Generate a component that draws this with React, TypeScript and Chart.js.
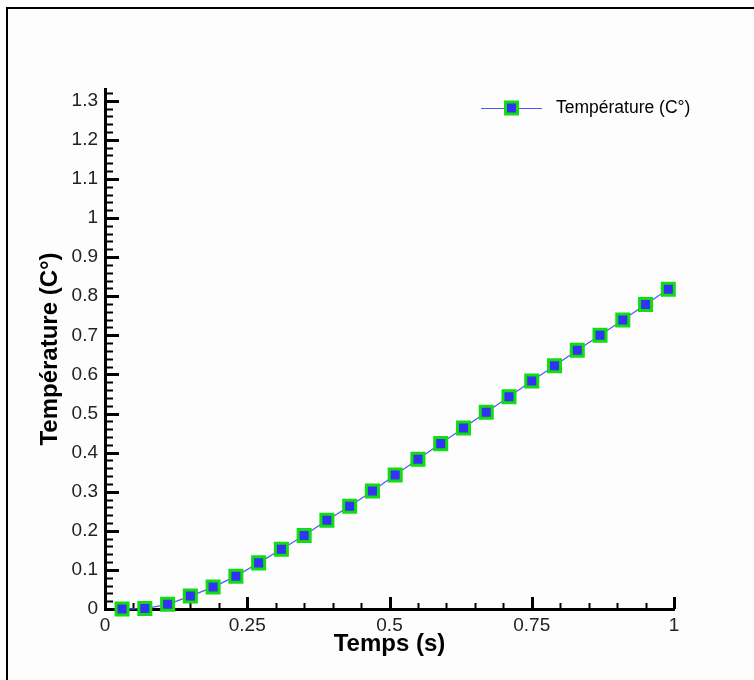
import React, { useEffect, useRef } from "react";
import { Chart, registerables } from "chart.js";

Chart.register(...registerables);

// ---- data ----
const timeValues = [
  0.03, 0.07, 0.11, 0.15, 0.19, 0.23, 0.27, 0.31, 0.35, 0.39, 0.43, 0.47, 0.51,
  0.55, 0.59, 0.63, 0.67, 0.71, 0.75, 0.79, 0.83, 0.87, 0.91, 0.95, 0.99,
];
const temperatureValues = [
  0.0, 0.001, 0.012, 0.033, 0.056, 0.084, 0.118, 0.153, 0.188, 0.227, 0.263,
  0.302, 0.343, 0.383, 0.423, 0.463, 0.503, 0.543, 0.583, 0.622, 0.662, 0.7,
  0.739, 0.779, 0.818,
];
const xTickValues = [0, 0.25, 0.5, 0.75, 1];
const xTickLabels = ["0", "0.25", "0.5", "0.75", "1"];
const yTickValues = [0, 0.1, 0.2, 0.3, 0.4, 0.5, 0.6, 0.7, 0.8, 0.9, 1, 1.1, 1.2, 1.3];
const yTickLabels = ["0", "0.1", "0.2", "0.3", "0.4", "0.5", "0.6", "0.7", "0.8", "0.9", "1", "1.1", "1.2", "1.3"];
const seriesLabel = "Température (C°)";
const xTitle = "Temps (s)";
const yTitle = "Température (C°)";

const FONT = "'Liberation Sans', Arial, sans-serif";

const tickMarksPlugin = {
  id: "tickMarks",
  beforeDatasetsDraw(chart: any) {
    const { ctx, chartArea, scales } = chart;
    const xs = scales.x;
    const ys = scales.y;
    ctx.save();
    ctx.strokeStyle = "#000";
    // y ticks (inward), minor every 0.02
    const yMinorCount = Math.floor((ys.max + 1e-9) / 0.02);
    for (let i = 0; i <= yMinorCount; i++) {
      const v = i * 0.02;
      const major = i % 5 === 0;
      const py = Math.round(ys.getPixelForValue(v)) + 0.5;
      ctx.beginPath();
      ctx.lineWidth = major ? 3 : 2;
      ctx.moveTo(chartArea.left, py);
      ctx.lineTo(chartArea.left + (major ? 14 : 8), py);
      ctx.stroke();
    }
    // x ticks (inward), minor every 0.05
    for (let i = 0; i <= 20; i++) {
      const v = i * 0.05;
      const major = i % 5 === 0;
      const px = Math.round(xs.getPixelForValue(v)) + 0.5;
      ctx.beginPath();
      ctx.lineWidth = major ? 3 : 2;
      ctx.moveTo(px, chartArea.bottom);
      ctx.lineTo(px, chartArea.bottom - (major ? 12 : 6));
      ctx.stroke();
    }
    ctx.restore();
  },
};

const legendPlugin = {
  id: "customLegend",
  afterDraw(chart: any) {
    const { ctx } = chart;
    const ds = chart.data.datasets[0];
    const y = 108;
    const x0 = 481;
    const x1 = 542;
    ctx.save();
    ctx.strokeStyle = ds.borderColor;
    ctx.lineWidth = ds.borderWidth;
    ctx.beginPath();
    ctx.moveTo(x0, y + 0.5);
    ctx.lineTo(x1, y + 0.5);
    ctx.stroke();
    const cx = (x0 + x1) / 2;
    const side = 12;
    ctx.fillStyle = ds.pointBackgroundColor;
    ctx.strokeStyle = ds.pointBorderColor;
    ctx.lineWidth = ds.pointBorderWidth;
    ctx.beginPath();
    ctx.rect(cx - side / 2, y - side / 2, side, side);
    ctx.fill();
    ctx.stroke();
    ctx.fillStyle = "#000";
    ctx.font = `17.5px ${FONT}`;
    ctx.textBaseline = "middle";
    ctx.textAlign = "left";
    ctx.fillText(ds.label, 556, y);
    ctx.restore();
  },
};

export default function App() {
  const canvasRef = useRef<HTMLCanvasElement | null>(null);

  useEffect(() => {
    const canvas = canvasRef.current;
    if (!canvas) return;
    const chart = new Chart(canvas, {
      type: "line",
      data: {
        datasets: [
          {
            label: seriesLabel,
            data: timeValues.map((t, i) => ({ x: t, y: temperatureValues[i] })),
            borderColor: "#5555ff",
            borderWidth: 1.2,
            pointStyle: "rect",
            pointRadius: 8.5,
            pointHoverRadius: 8.5,
            pointBackgroundColor: "#3333f5",
            pointBorderColor: "#11dd11",
            pointBorderWidth: 3,
            tension: 0,
            clip: false,
          } as any,
        ],
      },
      options: {
        animation: false,
        responsive: false,
        maintainAspectRatio: false,
        events: [],
        layout: { padding: { left: 0, top: 89, right: 80, bottom: 0 } },
        plugins: {
          legend: { display: false },
          tooltip: { enabled: false },
        },
        scales: {
          x: {
            type: "linear",
            min: 0,
            max: 1,
            afterFit: (s: any) => {
              s.height = 71;
            },
            afterBuildTicks: (s: any) => {
              s.ticks = xTickValues.map((v) => ({ value: v }));
            },
            grid: { display: false, drawTicks: false },
            border: { display: true, color: "#000", width: 3 },
            ticks: {
              autoSkip: false,
              maxRotation: 0,
              padding: 5,
              color: "#222",
              font: { family: FONT, size: 19 },
              callback: (v: any) => {
                const idx = xTickValues.findIndex((t) => Math.abs(t - v) < 1e-9);
                return idx >= 0 ? xTickLabels[idx] : "";
              },
            },
            title: {
              display: true,
              text: xTitle,
              color: "#000",
              font: { family: FONT, size: 24, weight: "bold" },
              padding: { top: 0, bottom: 21 },
            },
          },
          y: {
            type: "linear",
            min: 0,
            max: 1.33,
            afterFit: (s: any) => {
              s.width = 105;
            },
            afterBuildTicks: (s: any) => {
              s.ticks = yTickValues.map((v) => ({ value: v }));
            },
            grid: { display: false, drawTicks: false },
            border: { display: true, color: "#000", width: 3 },
            ticks: {
              autoSkip: false,
              padding: 7,
              color: "#222",
              font: { family: FONT, size: 19 },
              callback: (v: any) => {
                const idx = yTickValues.findIndex((t) => Math.abs(t - v) < 1e-9);
                return idx >= 0 ? yTickLabels[idx] : "";
              },
            },
            title: {
              display: true,
              text: yTitle,
              color: "#000",
              font: { family: FONT, size: 24, weight: "bold" },
              padding: { top: 36, bottom: 0 },
            },
          },
        },
      },
      plugins: [tickMarksPlugin, legendPlugin],
    });
    return () => chart.destroy();
  }, []);

  return (
    <div
      style={{
        position: "fixed",
        left: 0,
        top: 0,
        width: 754,
        height: 680,
        overflow: "hidden",
        background: "#fff",
      }}
    >
      <div
        style={{
          position: "absolute",
          left: 6,
          top: 7,
          width: 800,
          height: 720,
          borderLeft: "2px solid #000",
          borderTop: "2px solid #000",
          background: "#fdfdfd",
        }}
      />
      <canvas
        ref={canvasRef}
        width={754}
        height={680}
        style={{ position: "absolute", left: 0, top: 0, width: 754, height: 680 }}
      />
    </div>
  );
}
